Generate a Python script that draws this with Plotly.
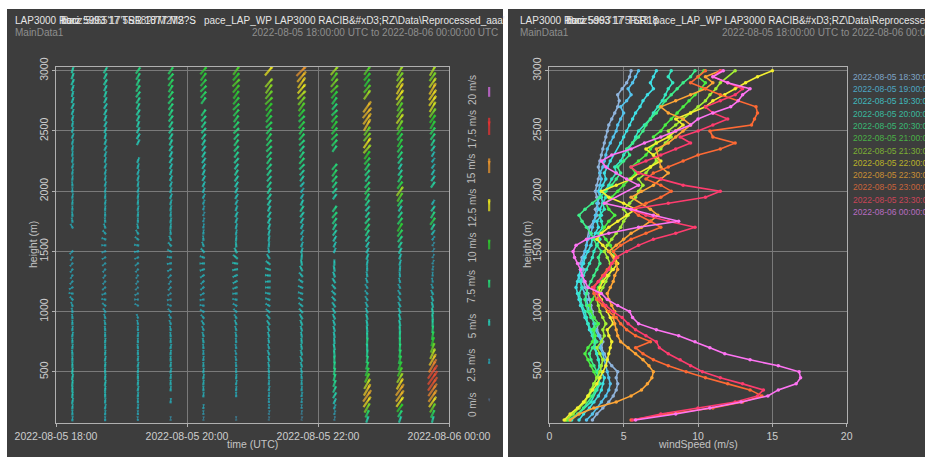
import plotly.graph_objects as go

W, H = 925, 459
FONT = "Liberation Sans, Arial, sans-serif"

# ---------------- data ----------------
HEIGHTS = list(range(100, 3001, 50))  # range gates (m)

PROFILE_LABELS = [
    "2022-08-05 18:30:00", "2022-08-05 19:00:00", "2022-08-05 19:30:00",
    "2022-08-05 20:00:00", "2022-08-05 20:30:00", "2022-08-05 21:00:00",
    "2022-08-05 21:30:00", "2022-08-05 22:00:00", "2022-08-05 22:30:00",
    "2022-08-05 23:00:00", "2022-08-05 23:30:00", "2022-08-06 00:00:00",
]
COLUMN_TIMES = [
    "2022-08-05 18:15", "2022-08-05 18:45", "2022-08-05 19:15", "2022-08-05 19:45",
    "2022-08-05 20:15", "2022-08-05 20:45", "2022-08-05 21:15", "2022-08-05 21:45",
    "2022-08-05 22:15", "2022-08-05 22:45", "2022-08-05 23:15", "2022-08-05 23:45",
]

S_1830 = [2.9, 3.2, 3.6, 4.0, 4.3, 4.5, 4.6, 4.5, 4.6, 4.2,
          3.9, 3.7, 3.5, 3.6, 3.4, 3.2, 3.3, 3.0, 2.9, 2.8,
          2.7, 2.6, 2.4, 2.3, 2.2, 2.3, 2.1, 2.2, 2.4, None,
          None, None, 2.7, 3.0, 3.2, 3.1, 3.3, 3.2, 3.1, 3.2,
          3.3, 3.4, 3.3, 3.4, 3.5, 3.6, 3.7, 3.8, 3.9, 4.0,
          4.2, 4.4, 4.6, 4.7, 4.6, 4.9, 5.2, 5.4, 5.5]
S_1900 = [2.5, 2.9, 3.2, 3.5, 3.8, 4.0, 4.1, 4.0, 3.9, 3.8,
          3.7, 3.6, 3.4, 3.5, 3.3, 3.1, 3.0, 2.9, 2.7, 2.6,
          2.5, 2.4, 2.2, 2.1, 2.0, 2.1, 2.2, 2.3, 2.4, 2.5,
          2.6, 2.8, 2.9, 3.0, 3.1, 3.3, 3.2, 3.4, 3.3, 3.4,
          3.5, 3.4, 3.6, 3.7, 3.8, 3.9, 4.1, 4.3, 4.5, 4.6,
          4.8, 5.0, 4.8, 5.2, 5.5, 5.3, 5.6, 5.8, 6.0]
S_1930 = [2.0, 2.3, 2.7, 3.0, 3.3, 3.5, 3.6, 3.7, 3.5, 3.4,
          3.3, 3.2, 3.1, 3.0, 2.9, 2.7, 2.6, 2.4, None, 2.1,
          2.0, 1.9, 1.8, 1.9, 2.0, 2.1, 2.3, 2.4, 2.6, 2.8,
          2.9, 3.1, 3.3, 3.2, 3.5, 3.4, 3.6, 3.5, 3.4, 3.6,
          3.8, 3.7, 3.9, 4.1, None, None, 4.8, 5.0, 5.2, 5.4,
          5.6, 5.8, 6.1, 6.3, 6.6, 7.0, 6.8, 7.0, 7.2]
S_2000 = [1.5, None, None, 2.8, None, 3.2, 3.4, 3.3, 3.2, 3.4,
          3.3, 3.2, 3.0, 3.1, 2.9, 2.8, 2.6, 2.5, 2.4, 2.2,
          2.1, 2.0, 2.2, 2.1, 2.3, 2.5, 2.7, 2.9, 3.0, 3.2,
          3.4, 3.3, 3.6, 3.5, 3.4, 3.7, 3.6, 3.8, 3.7, 4.0,
          4.2, 4.5, 4.4, 4.8, 5.0, 5.3, 5.6, 5.8, 6.0, 6.4,
          6.8, 7.0, 7.3, 7.6, 7.8, 8.0, 8.3, 8.0, 8.2]
S_2030 = [1.3, 1.9, 2.3, None, 2.9, 3.1, 3.3, 3.4, 3.2, 3.0,
          2.8, 2.7, 2.9, 3.2, 3.0, 2.9, 3.1, 2.8, 2.6, 2.5,
          2.4, 2.5, 2.6, 2.8, 3.0, 3.2, 3.4, 3.3, 3.5, 3.2,
          3.0, 2.8, 2.5, 2.2, 2.0, 2.4, 2.9, 3.4, 3.8, 4.2,
          4.5, 4.8, 4.6, 5.0, 5.4, 5.2, 5.6, 6.0, 6.3, 6.5,
          6.8, 7.2, None, 7.8, 8.2, 8.6, 9.0, 9.5, 9.8]
S_2100 = [1.2, None, None, None, 2.7, 2.9, 3.0, 3.2, 3.0, 2.8,
          2.6, 2.4, 2.6, 2.9, 3.1, 3.0, 3.3, 3.0, 2.8, 2.7,
          2.9, 3.1, 3.3, 3.5, 3.7, 4.0, 4.2, 4.4, 4.3, 4.1,
          3.8, 3.5, 3.7, 4.0, 4.4, 4.0, 3.8, 4.2, 4.6, 5.0,
          5.4, 5.8, 5.5, 6.0, 6.5, 6.8, 7.2, 7.0, 7.5, 7.8,
          8.2, 8.6, 9.0, 9.4, 9.8, 10.2, 10.5, 10.0, 10.4]
S_2130 = [1.1, 1.6, 2.0, 2.4, 2.6, 2.8, 3.0, 3.2, 3.4, 3.5,
          3.6, 3.4, 3.2, 3.5, 3.7, 3.6, 3.8, 3.6, 3.4, 3.3,
          3.2, 3.4, 3.6, 3.8, 4.0, 4.2, 4.1, 3.9, 3.7, 3.9,
          4.2, 4.5, 4.8, 5.0, 5.3, 5.0, 5.4, 5.8, 6.0, 6.3,
          6.0, 6.5, 6.8, 7.2, 7.0, 7.5, 7.8, 8.2, 8.0, 8.5,
          9.0, 9.5, 10.0, 10.5, 10.8, 11.2, 11.5, None, 12.5]
S_2200 = [1.0, 1.4, 1.9, 2.3, 2.6, 2.9, 3.2, 3.4, 3.6, 3.8,
          3.9, 4.0, 4.1, 4.2, 4.0, 3.9, 4.3, 4.1, 3.9, 3.7,
          3.5, 3.3, 3.4, 3.6, 3.9, 4.3, 4.6, 4.4, 4.0, 3.6,
          3.2, 3.5, 4.0, 4.6, 5.2, 5.8, 5.0, 4.0, 3.5, 4.5,
          5.5, 6.0, 6.8, 7.5, 7.0, 6.5, 7.2, 8.0, 8.5, 9.0,
          8.5, 9.5, 10.5, 11.0, 11.8, 12.5, 13.2, 14.0, 15.0]
S_2230 = [1.4, 2.0, 3.0, 4.5, 5.5, 6.2, 6.6, 6.9, 7.0, 6.7,
          6.3, 5.8, 5.3, 4.8, 4.6, 4.5, 4.4, 4.3, 4.4, 4.2,
          4.0, 3.9, 4.1, 4.3, 4.4, 4.6, 4.5, None, 4.0, 4.5,
          5.0, 5.5, 6.2, 6.8, 7.3, 6.8, None, 5.5, 6.2, 7.0,
          7.5, 8.0, 7.5, None, None, 7.2, 8.0, 8.5, 9.0, 9.5,
          9.0, 8.0, 7.5, 8.5, 9.5, 10.5, 11.0, 10.5, 11.5]
S_2300 = [5.5, 8.0, 11.0, 13.0, 14.3, 13.5, 12.0, 10.5, 9.2, 8.0,
          7.0, 6.3, 5.8, 6.8, 5.8, 5.2, 4.8, 4.5, 4.0, 3.6,
          3.2, 3.0, 2.9, 3.3, 3.6, 3.9, 4.2, 4.6, 4.3, 4.8,
          5.5, 6.5, 7.5, 6.8, 6.0, 5.5, 6.5, 7.5, 8.2, 7.5,
          6.5, 7.0, 8.0, 9.0, 10.0, 11.5, 12.5, 11.0, 10.8, 13.6,
          13.8, 14.0, 13.9, None, 11.5, 10.5, 9.5, 10.0, 10.5]
S_2330 = [5.6, 7.5, 10.0, 12.5, 14.0, 14.4, 13.0, 11.5, 10.3, 9.5,
          8.8, 8.0, 7.4, 7.2, 6.5, 5.8, 5.3, 4.9, 4.3, 3.8,
          3.4, 3.2, 3.0, 3.3, 3.7, 4.0, 4.2, 4.5, 5.2, 6.0,
          7.0, 8.5, 9.8, 8.0, 6.5, 5.5, 8.0, 10.5, 11.5, 9.0,
          7.5, 6.0, 5.5, 6.5, 7.5, 8.5, 9.5, 8.8, 10.0, 11.0,
          12.0, 11.0, 10.5, 11.5, 12.5, 13.0, 12.0, 11.0, 11.5]
S_0000 = [5.8, 8.5, 10.8, 12.9, 14.7, 15.4, 16.6, 16.9, 16.8, 15.4,
          13.5, 11.8, 10.8, 9.8, 8.7, 7.2, 6.0, 5.6, 5.4, 4.6,
          3.9, 3.5, 2.6, 2.4, 2.2, 2.1, 1.9, 1.7, 1.6, 1.8,
          2.5, 4.0, 6.0, 8.7, 7.0, 5.5, 3.7, None, None, 6.0,
          5.2, 4.5, 3.8, 3.5, 4.2, 5.5, 6.4, 7.5, 8.5, 9.5,
          10.0, 11.0, 12.2, 12.7, 13.0, 13.5, 12.0, 11.0, 11.7]

D_1830 = [185, 180, 185, 190, 185, 180, 185, 190, 185, 180,
          180, 175, 185, 180, 190, 185, 180, 175, 170, 160,
          140, 100, 60, 40, 30, 35, 40, 30, 45, 60,
          80, 120, 150, 170, 175, 180, 185, 190, 180, 175,
          185, 190, 195, 190, 185, 190, 195, 200, 195, 190,
          195, 200, 205, 200, 195, 200, 205, 200, 195]
D_1900 = [180, 185, 190, 185, 180, 185, 190, 185, 180, 185,
          190, 185, 180, 185, 180, 175, 170, 165, 150, 130,
          100, 70, 50, 40, 35, 40, 50, 60, 70, 90,
          110, 140, 160, 175, 180, 185, 190, 185, 190, 195,
          190, 195, 200, 195, 200, 205, 200, 195, 200, 205,
          200, 205, 210, 205, 200, 205, 210, 205, 210]
D_1930 = [175, 180, 185, 180, 185, 190, 185, 180, 185, 190,
          185, 180, 175, 180, 185, 180, 170, 160, 145, 120,
          90, 60, 45, 35, 30, 40, 50, 65, 80, 100,
          130, 150, 170, 180, 185, 190, 185, 190, 195, 190,
          195, 200, 195, 200, 205, 200, 205, 210, 205, 200,
          205, 210, 205, 210, 215, 210, 205, 210, 215]
D_2000 = [180, 185, 180, 185, 190, 185, 180, 185, 190, 185,
          180, 185, 190, 180, 175, 170, 160, 150, 135, 110,
          80, 55, 40, 35, 45, 60, 80, 100, 120, 140,
          160, 175, 185, 190, 185, 190, 195, 200, 195, 200,
          205, 200, 205, 210, 205, 210, 205, 210, 215, 210,
          215, 210, 215, 220, 215, 210, 215, 220, 215]
D_2030 = [185, 180, 185, 190, 185, 180, 185, 190, 185, 180,
          185, 180, 175, 170, 165, 160, 150, 140, 120, 100,
          80, 60, 50, 45, 55, 70, 90, 110, 140, 160,
          175, 185, 190, 195, 200, 195, 200, 205, 200, 205,
          210, 205, 210, 215, 210, 215, 210, 215, 220, 215,
          220, 215, 220, 215, 220, 225, 220, 215, 220]
D_2100 = [180, 185, 190, 185, 180, 185, 190, 185, 180, 175,
          170, 165, 170, 175, 170, 165, 160, 150, 135, 120,
          100, 85, 70, 60, 65, 80, 100, 130, 155, 175,
          185, 190, 195, 200, 205, 200, 205, 210, 205, 210,
          215, 210, 215, 220, 215, 220, 215, 220, 225, 220,
          215, 220, 225, 220, 215, 220, 225, 220, 215]
D_2130 = [185, 190, 185, 180, 185, 190, 185, 180, 175, 170,
          165, 160, 165, 170, 165, 160, 150, 140, 130, 120,
          110, 100, 90, 85, 95, 110, 130, 150, 170, 185,
          190, 195, 200, 205, 210, 205, 210, 215, 210, 215,
          220, 215, 220, 215, 220, 225, 220, 215, 220, 225,
          220, 215, 220, 225, 220, 215, 220, 225, 220]
D_2200 = [190, 185, 180, 185, 190, 185, 180, 175, 170, 165,
          160, 165, 170, 175, 170, 165, 160, 150, 140, 130,
          120, 110, 115, 125, 140, 155, 170, 185, 195, 200,
          205, 210, 205, 210, 215, 210, 205, 210, 215, 220,
          215, 220, 225, 220, 215, 220, 225, 220, 215, 220,
          225, 220, 215, 220, 225, 220, 215, 220, 225]
D_2230 = [190, 195, 200, 205, 210, 205, 200, 195, 190, 185,
          180, 175, 170, 175, 170, 165, 160, 155, 150, 145,
          140, 135, 140, 150, 160, 170, 180, 190, 200, 205,
          210, 215, 210, 215, 220, 215, 210, 215, 220, 215,
          220, 215, 220, 225, 220, 215, 220, 225, 220, 215,
          220, 225, 220, 215, 220, 225, 220, 215, 220]
D_2300 = [200, 205, 210, 215, 215, 210, 210, 205, 200, 195,
          190, 185, 180, 185, 180, 175, 170, 165, 160, 155,
          150, 145, 150, 160, 170, 180, 190, 200, 205, 210,
          215, 210, 215, 220, 215, 220, 215, 210, 215, 220,
          215, 220, 215, 220, 215, 220, 215, 220, 215, 210,
          215, 220, 215, 220, 215, 220, 215, 220, 215]
D_2330 = [200, 210, 215, 215, 215, 215, 210, 210, 205, 200,
          195, 190, 185, 180, 180, 175, 170, 165, 160, 155,
          150, 150, 155, 165, 175, 185, 195, 200, 205, 210,
          215, 215, 210, 215, 215, 210, 215, 210, 215, 215,
          210, 215, 210, 215, 215, 215, 210, 215, 215, 210,
          215, 215, 210, 215, 215, 210, 215, 215, 210]
D_0000 = [195, 205, 210, 215, 215, 215, 215, 215, 215, 210,
          210, 205, 200, 195, 190, 185, 180, 175, 170, 165,
          160, 155, 160, 170, 180, 190, 200, 205, 210, 210,
          215, 215, 210, 215, 210, 215, 210, 215, 210, 215,
          215, 210, 215, 215, 210, 215, 210, 215, 215, 210,
          215, 215, 210, 215, 215, 210, 215, 215, 210]

SPEEDS = [S_1830, S_1900, S_1930, S_2000, S_2030, S_2100,
          S_2130, S_2200, S_2230, S_2300, S_2330, S_0000]
DIRS = [D_1830, D_1900, D_1930, D_2000, D_2030, D_2100,
        D_2130, D_2200, D_2230, D_2300, D_2330, D_0000]

SPEED_KEY_VALUES = [0, 2.5, 5, 7.5, 10, 12.5, 15, 17.5, 20]
SPEED_KEY_LABELS = ["0 m/s", "2.5 m/s", "5 m/s", "7.5 m/s", "10 m/s",
                    "12.5 m/s", "15 m/s", "17.5 m/s", "20 m/s"]

TIME_TICKS = ["2022-08-05 18:00", "2022-08-05 20:00", "2022-08-05 22:00", "2022-08-06 00:00"]
HEIGHT_TICKS = [500, 1000, 1500, 2000, 2500, 3000]
WS_TICKS = [0, 5, 10, 15, 20]

# ---------------- styles ----------------
LINE_COLORS = ["#8fb4dc", "#55c4ee", "#3fe0e6", "#36e8c2", "#3ef08a", "#4cf044",
               "#a4f034", "#f4f030", "#ffa636", "#ff6a34", "#ff3c6e", "#ff74f4"]
LEGEND_COLORS = ["#7ea4c6", "#4da6c2", "#40b8bc", "#39b99e", "#39b874", "#4ab046",
                 "#7cae34", "#b9b02a", "#c98e34", "#c9643a", "#c94458", "#b86cc0"]
SPEED_SCALE = [[0.0, "#52749c"], [0.125, "#22b8cc"], [0.25, "#22e0c8"],
               [0.375, "#22e47a"], [0.5, "#2cd42c"], [0.625, "#f4f01c"],
               [0.75, "#f49a2c"], [0.875, "#f23232"], [1.0, "#e070f0"]]
PANEL = "#3d3d3d"


def px(x):
    return x / W


def py(y):
    return 1 - y / H


fig = go.Figure()

# ---- left: wind arrows ----
ax, ay, asp, adir = [], [], [], []
for t, sp, dr in zip(COLUMN_TIMES, SPEEDS, DIRS):
    for h, s, d in zip(HEIGHTS, sp, dr):
        if s is None:
            continue
        ax.append(t)
        ay.append(h)
        asp.append(s)
        adir.append(d)


def arrow_traces(x, y, spd, ang, xa, ya):
    return [
        go.Scatter(x=x, y=y, mode="markers", xaxis=xa, yaxis=ya, showlegend=False,
                   hoverinfo="skip",
                   marker=dict(symbol="line-ns-open", size=[0.7 * s for s in spd], angle=ang,
                               color=spd, colorscale=SPEED_SCALE, cmin=0, cmax=20,
                               line=dict(width=2.2))),
        go.Scatter(x=x, y=y, mode="markers", xaxis=xa, yaxis=ya, showlegend=False,
                   hoverinfo="skip",
                   marker=dict(symbol="arrow", size=[3.8 + 0.08 * s for s in spd], angle=ang,
                               color=spd, colorscale=SPEED_SCALE, cmin=0, cmax=20,
                               line=dict(width=0))),
    ]


for tr in arrow_traces(ax, ay, asp, adir, "x", "y"):
    fig.add_trace(tr)
for tr in arrow_traces([0.69] * len(SPEED_KEY_VALUES), SPEED_KEY_VALUES, SPEED_KEY_VALUES,
                       [180] * len(SPEED_KEY_VALUES), "x3", "y3"):
    fig.add_trace(tr)

# ---- right: profiles ----
for sp, c, lab in zip(SPEEDS, LINE_COLORS, PROFILE_LABELS):
    fig.add_trace(go.Scatter(
        x=sp, y=HEIGHTS, mode="lines+markers", xaxis="x2", yaxis="y2", name=lab,
        connectgaps=True, showlegend=False,
        line=dict(color=c, width=1.6), marker=dict(size=3.5, color=c)))

axis_common = dict(showline=True, mirror=True, linecolor="#b0b0b0", linewidth=1,
                   showgrid=True, gridcolor="#7a7a7a", gridwidth=1, zeroline=False,
                   ticks="outside", ticklen=3, tickcolor="#b0b0b0", automargin=False,
                   tickfont=dict(family=FONT, size=10.5, color="#cdcdcd"))

fig.update_layout(
    template="none",
    width=W, height=H, margin=dict(l=0, r=0, t=0, b=0, autoexpand=False),
    paper_bgcolor="white", plot_bgcolor=PANEL, showlegend=False,
    font=dict(family=FONT),
    xaxis=dict(domain=[px(56), px(449)], anchor="y", type="date",
               range=[TIME_TICKS[0], TIME_TICKS[-1]], tickvals=TIME_TICKS,
               ticktext=TIME_TICKS, **axis_common),
    yaxis=dict(domain=[py(423), py(67)], anchor="x", range=[75, 3031],
               tickvals=HEIGHT_TICKS, tickangle=-90, **axis_common),
    xaxis2=dict(domain=[px(549.3), px(846.7)], anchor="y2", range=[0, 20],
                tickvals=WS_TICKS, **axis_common),
    yaxis2=dict(domain=[py(423), py(67)], anchor="x2", range=[75, 3031],
                tickvals=HEIGHT_TICKS, tickangle=-90, **axis_common),
    xaxis3=dict(domain=[px(465), px(500)], anchor="y3", range=[0, 1], visible=False),
    yaxis3=dict(domain=[py(402), py(87)], anchor="x3", range=[0, 20], visible=False),
)

shapes = [
    dict(type="rect", xref="paper", yref="paper", x0=px(7), x1=px(503), y0=py(457), y1=py(9),
         fillcolor=PANEL, line=dict(width=0), layer="below"),
    dict(type="rect", xref="paper", yref="paper", x0=px(508), x1=1.0, y0=py(457), y1=py(9),
         fillcolor=PANEL, line=dict(width=0), layer="below"),
]
fig.update_layout(shapes=shapes)

ann = []


def text(x, y, s, size=10, color="#e6e6e6", xanchor="left", angle=0, yanchor="middle"):
    ann.append(dict(x=px(x), y=py(y), xref="paper", yref="paper", text=s, showarrow=False,
                    xanchor=xanchor, yanchor=yanchor, textangle=angle,
                    font=dict(family=FONT, size=size, color=color)))


HEAD_TAIL = "pace_LAP_WP LAP3000 RACIB&amp;#xD3;RZ\\Data\\Reprocessed_aaa'"
# left panel header
text(13, 20.5, "LAP3000 Raci")
text(59, 20.5, "borz 5993 17 TSR 1877 M2?S", color="#f2f2f2")
text(60, 20.5, "Barz:5d65'17'5R18?7M2TS", color="#d8d8d8")
text(202, 20.5, HEAD_TAIL)
text(13, 33, "MainData1", color="#8e8e8e")
text(500, 33, "2022-08-05 18:00:00 UTC to 2022-08-06 00:00:00 UTC", color="#8e8e8e", xanchor="right")
# right panel header
text(518, 20.5, "LAP3000 Raci")
text(564, 20.5, "borz 5993 17 TSR18", color="#f2f2f2")
text(565, 20.5, "Barz5d63'17'5R18", color="#d8d8d8")
text(652, 20.5, HEAD_TAIL)
text(518, 33, "MainData1", color="#8e8e8e")
text(720, 33, "2022-08-05 18:00:00 UTC to 2022-08-06 00:00:00 UTC", color="#8e8e8e")

# axis titles
text(33, 245, "height (m)", size=10.5, color="#c4c4c4", xanchor="center", angle=-90)
text(252, 443.5, "time (UTC)", size=10.5, color="#c4c4c4", xanchor="center")
text(527, 245, "height (m)", size=10.5, color="#c4c4c4", xanchor="center", angle=-90)
text(698, 443.5, "windSpeed (m/s)", size=10.5, color="#c4c4c4", xanchor="center")

# speed key labels
for v, lab in zip(SPEED_KEY_VALUES, SPEED_KEY_LABELS):
    ann.append(dict(x=px(472), y=v, xref="paper", yref="y3", text=lab, showarrow=False,
                    xanchor="center", yanchor="middle", textangle=-90, yshift=-3,
                    font=dict(family=FONT, size=10, color="#bdbdbd")))

# profile legend
for i, (lab, c) in enumerate(zip(PROFILE_LABELS, LEGEND_COLORS)):
    text(851, 76.7 + 12.3 * i, lab, size=8.5, color=c)

fig.update_layout(annotations=ann)
fig.write_html("out.html", config={"displayModeBar": False},
               post_script="document.body.style.margin='0px';")
